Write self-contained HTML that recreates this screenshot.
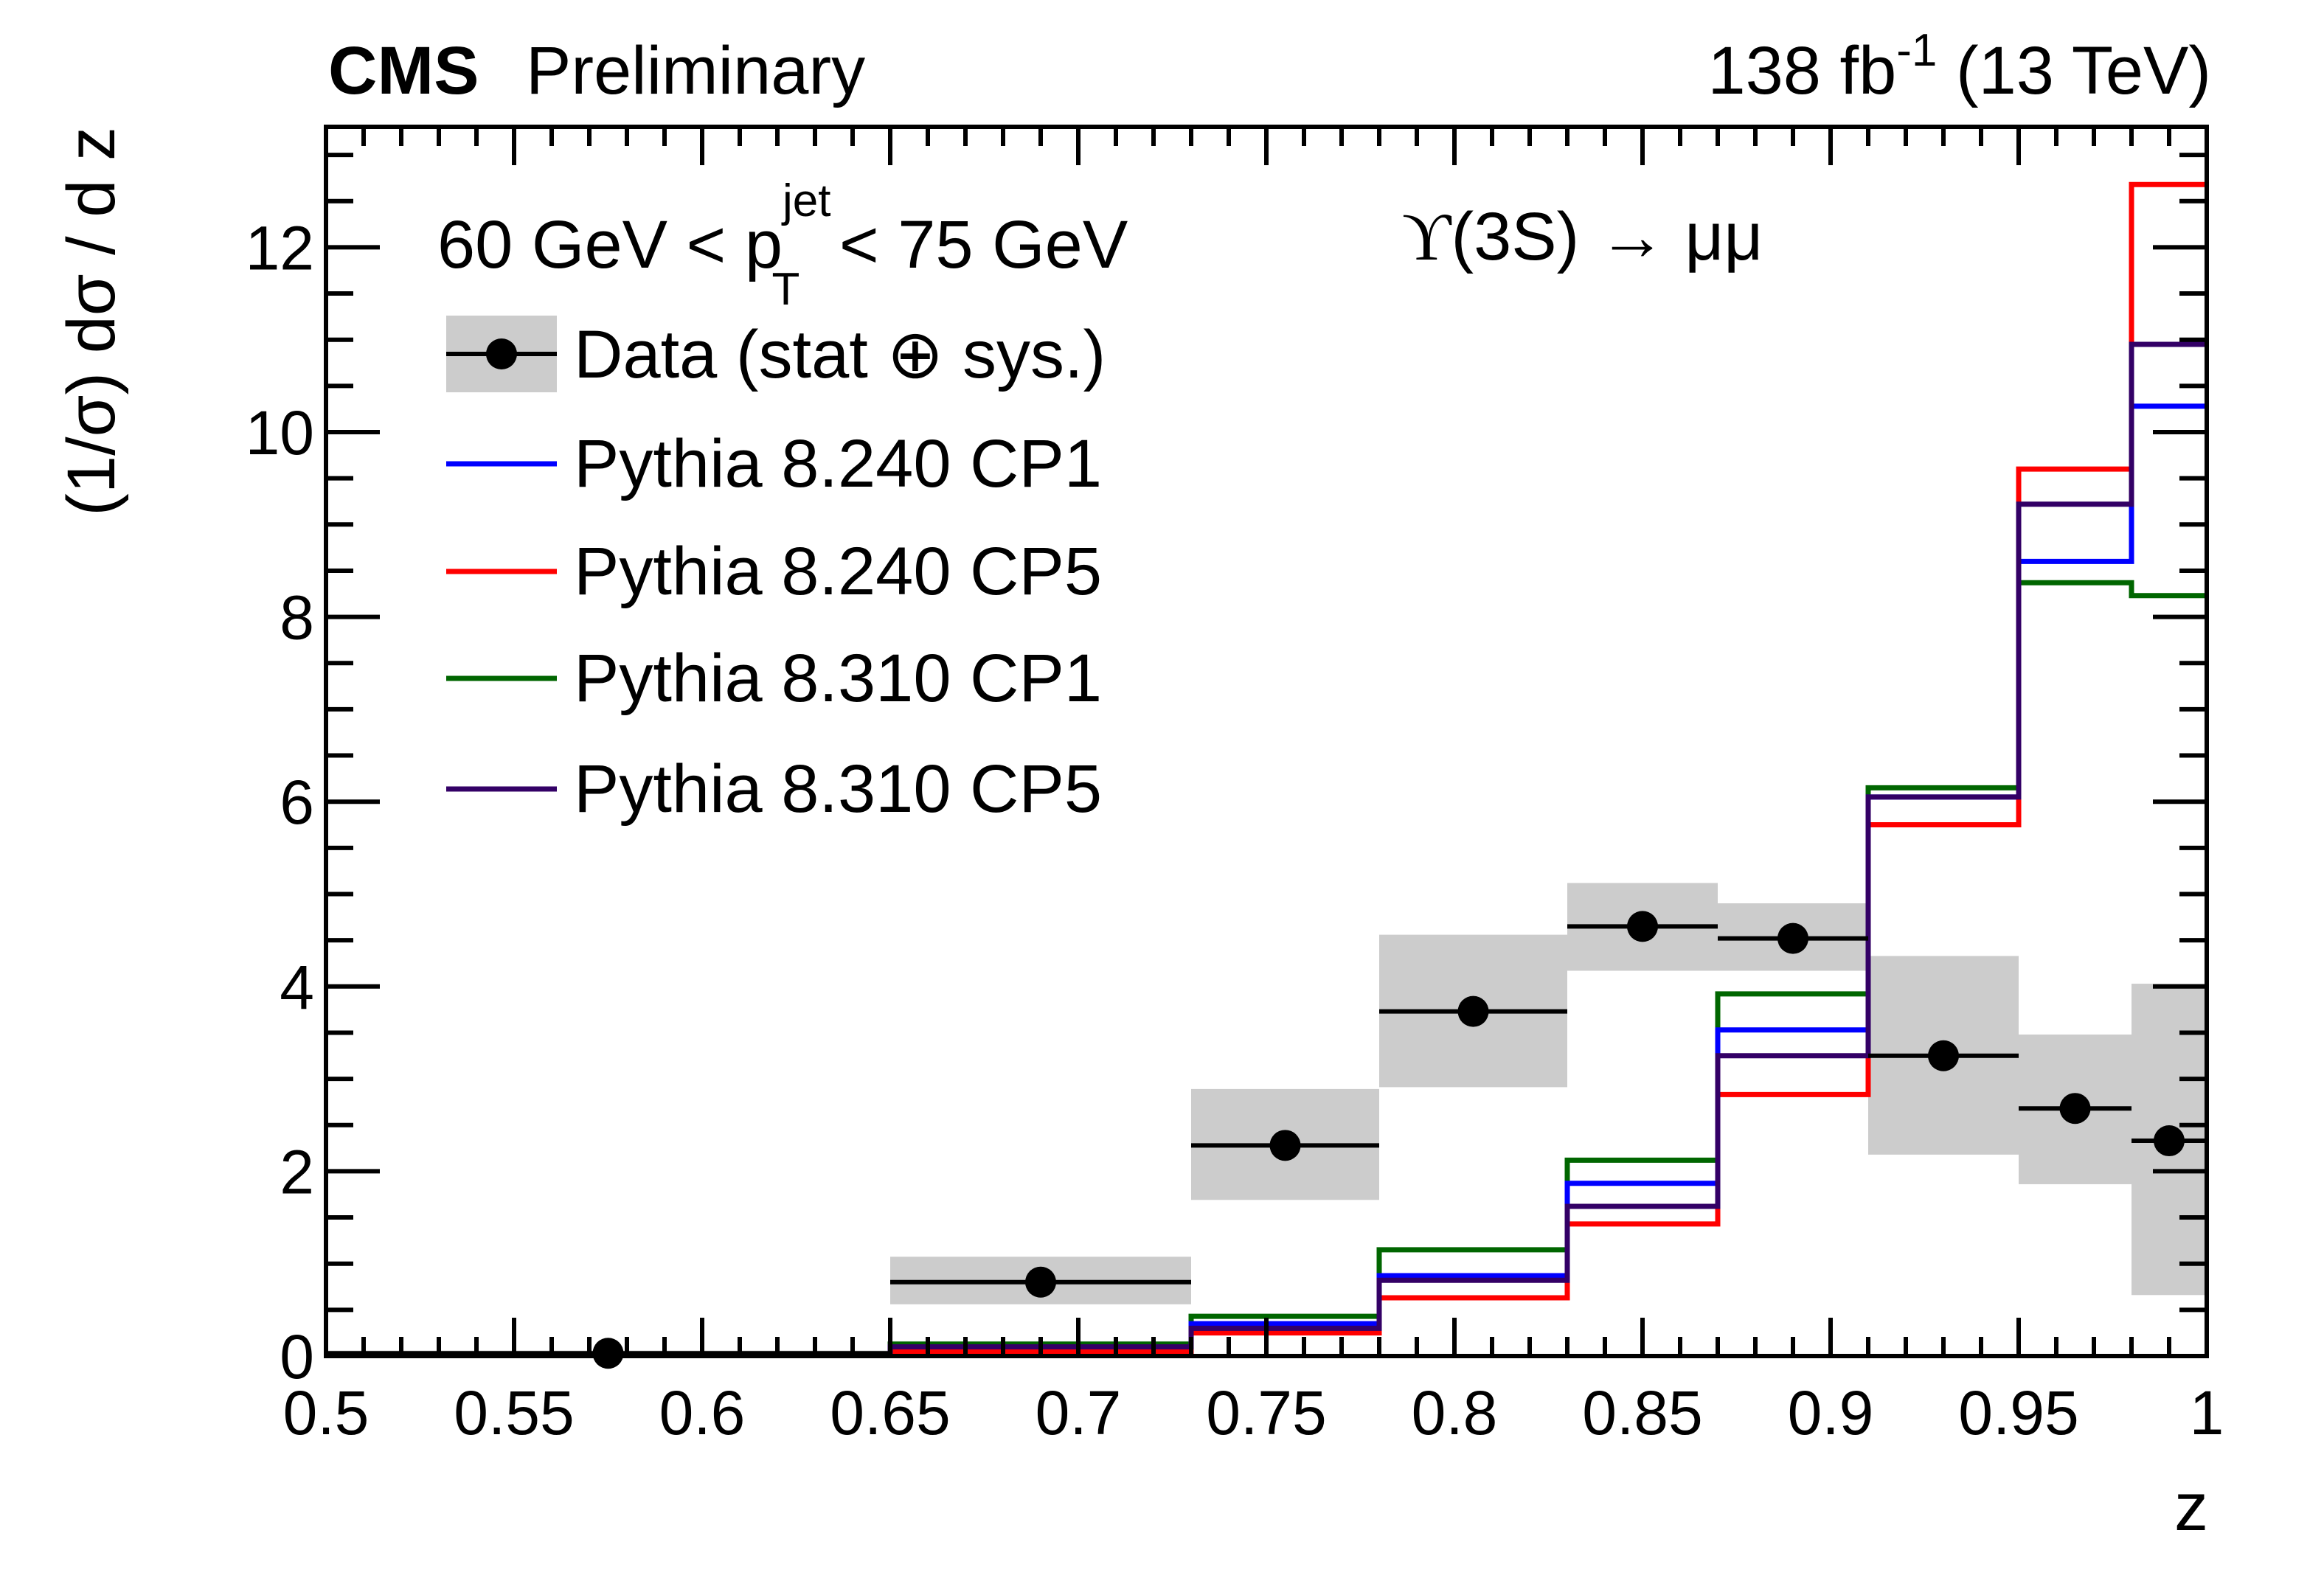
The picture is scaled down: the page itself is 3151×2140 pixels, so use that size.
<!DOCTYPE html>
<html><head><meta charset="utf-8">
<style>
html,body{margin:0;padding:0;background:#fff;}
svg{display:block;font-family:"Liberation Sans",sans-serif;}
</style></head>
<body>
<svg id="chart" width="3151" height="2140" viewBox="0 0 3151 2140" xmlns="http://www.w3.org/2000/svg">
<g id="bands"></g>
<g id="hists"></g>
<g id="data"></g>
<g id="axes"></g>
<text x="445" y="127" font-size="92" font-weight="bold">CMS</text>
<text x="713" y="127" font-size="92">Preliminary</text>
<text x="2998" y="127" font-size="92" text-anchor="end">138 fb<tspan dy="-38" font-size="62">-1</tspan><tspan dy="38"> (13 TeV)</tspan></text>
<text x="593" y="363" font-size="92">60 GeV &lt; p<tspan dy="-70" font-size="62">jet</tspan><tspan dx="-80" dy="120" font-size="62">T</tspan><tspan dx="28" dy="-50"> &lt; 75 GeV</tspan></text>
<text x="1901" y="352" font-size="92"><tspan font-family="Liberation Serif, serif">ϒ</tspan>(3S) → μμ</text>
<g>
 <g>
  <rect x="605" y="428" width="150" height="104" fill="#cccccc"/>
  <line x1="605" y1="480" x2="755" y2="480" stroke="#000" stroke-width="6"/>
  <circle cx="680" cy="480" r="21" fill="#000"/>
  <text x="778" y="512" font-size="92">Data (stat ⊕ sys.)</text>
 </g>
 <g>
  <line x1="605" y1="629" x2="755" y2="629" stroke="#0000ff" stroke-width="7"/>
  <text x="778" y="660" font-size="92">Pythia 8.240 CP1</text>
 </g>
 <g>
  <line x1="605" y1="775" x2="755" y2="775" stroke="#ff0000" stroke-width="7"/>
  <text x="778" y="806" font-size="92">Pythia 8.240 CP5</text>
 </g>
 <g>
  <line x1="605" y1="920" x2="755" y2="920" stroke="#006600" stroke-width="7"/>
  <text x="778" y="951" font-size="92">Pythia 8.310 CP1</text>
 </g>
 <g>
  <line x1="605" y1="1070" x2="755" y2="1070" stroke="#330066" stroke-width="7"/>
  <text x="778" y="1101" font-size="92">Pythia 8.310 CP5</text>
 </g>
</g>
<text x="2994" y="2075" font-size="92" text-anchor="end">z</text>
<text transform="translate(155,172) rotate(-90)" font-size="92" text-anchor="end">(1/σ) dσ / d z</text>
</svg>
<script>
const binEdges=[0.5,0.65,0.73,0.78,0.83,0.87,0.91,0.95,0.98,1.0];
const dataX=[0.575,0.69,0.755,0.805,0.85,0.89,0.93,0.965,0.99];
const dataY=[0.03,0.8,2.28,3.73,4.65,4.52,3.25,2.68,2.33];
const bandLo=[0.0,0.56,1.69,2.91,4.17,4.17,2.18,1.86,0.66];
const bandHi=[0.06,1.075,2.89,4.56,5.12,4.9,4.33,3.48,4.03];
const cp1_8240=[0.02,0.08,0.35,0.87,1.87,3.53,6.05,8.6,10.28];
const cp5_8240=[0.01,0.05,0.25,0.63,1.43,2.83,5.75,9.6,12.68];
const cp1_8310=[0.02,0.13,0.43,1.15,2.12,3.92,6.15,8.37,8.23];
const cp5_8310=[0.02,0.1,0.3,0.82,1.62,3.25,6.05,9.22,10.95];
const xTicks=[0.5,0.55,0.6,0.65,0.7,0.75,0.8,0.85,0.9,0.95,1];
const xTickLabels=["0.5","0.55","0.6","0.65","0.7","0.75","0.8","0.85","0.9","0.95","1"];
const yTicks=[0,2,4,6,8,10,12];
const yTickLabels=["0","2","4","6","8","10","12"];

const X0=442,X1=2992,Y0=1839,Y1=172,XMIN=0.5,XMAX=1.0,YMAX=(1839-172)/125.3;
const sx=v=>X0+(v-XMIN)/(XMAX-XMIN)*(X1-X0);
const sy=v=>Y0-v/YMAX*(Y0-Y1);
const NS="http://www.w3.org/2000/svg";
function mk(tag,attrs,parent){const e=document.createElementNS(NS,tag);for(const k in attrs)e.setAttribute(k,attrs[k]);parent.appendChild(e);return e;}

const bands=document.getElementById('bands');
for(let i=0;i<bandLo.length;i++){
 const r=mk('rect',{x:sx(binEdges[i]),y:sy(bandHi[i]),width:sx(binEdges[i+1])-sx(binEdges[i]),height:sy(bandLo[i])-sy(bandHi[i]),fill:'#cccccc'},bands);
 
 
}
const hists=document.getElementById('hists');
const series=[[cp1_8310,'#006600','hist-pythia8310-cp1'],[cp1_8240,'#0000ff','hist-pythia8240-cp1'],[cp5_8240,'#ff0000','hist-pythia8240-cp5'],[cp5_8310,'#330066','hist-pythia8310-cp5']];
series.forEach(([vals,col,name])=>{
 let d='M'+sx(binEdges[0])+','+sy(vals[0]);
 for(let i=0;i<vals.length;i++){
  d+=' L'+sx(binEdges[i])+','+sy(vals[i])+' L'+sx(binEdges[i+1])+','+sy(vals[i]);
 }
 const p=mk('path',{d:d,fill:'none',stroke:col,'stroke-width':7},hists);
 
 
});
const dg=document.getElementById('data');
for(let i=0;i<dataX.length;i++){
 const l=mk('line',{x1:sx(binEdges[i]),x2:sx(binEdges[i+1]),y1:sy(dataY[i]),y2:sy(dataY[i]),stroke:'#000','stroke-width':6},dg);
 
 
 const c=mk('circle',{cx:sx(dataX[i]),cy:sy(dataY[i]),r:21,fill:'#000'},dg);
 
 
}
const ax=document.getElementById('axes');
const frame=mk('rect',{x:X0,y:Y1,width:X1-X0,height:Y0-Y1,fill:'none',stroke:'#000','stroke-width':6},ax);


for(let k=0;k<=50;k++){
 const v=0.5+k*0.01,x=sx(v),maj=(k%5===0),len=maj?52:26;
 mk('line',{x1:x,x2:x,y1:Y0,y2:Y0-len,stroke:'#000','stroke-width':6},ax);
 mk('line',{x1:x,x2:x,y1:Y1,y2:Y1+len,stroke:'#000','stroke-width':6},ax);
}
for(let k=0;k*0.5<=YMAX;k++){
 const v=k*0.5,y=sy(v),maj=(k%4===0),len=maj?73:37;
 mk('line',{x1:X0,x2:X0+len,y1:y,y2:y,stroke:'#000','stroke-width':6},ax);
 mk('line',{x1:X1,x2:X1-len,y1:y,y2:y,stroke:'#000','stroke-width':6},ax);
}
xTicks.forEach((v,i)=>{
 const t=mk('text',{x:sx(v),y:1945,'font-size':84,'text-anchor':'middle'},ax);
 t.textContent=xTickLabels[i];
 
 
});
yTicks.forEach((v,i)=>{
 const t=mk('text',{x:426,y:sy(v)+30,'font-size':84,'text-anchor':'end'},ax);
 t.textContent=yTickLabels[i];
 
 
});
</script>
</body></html>
